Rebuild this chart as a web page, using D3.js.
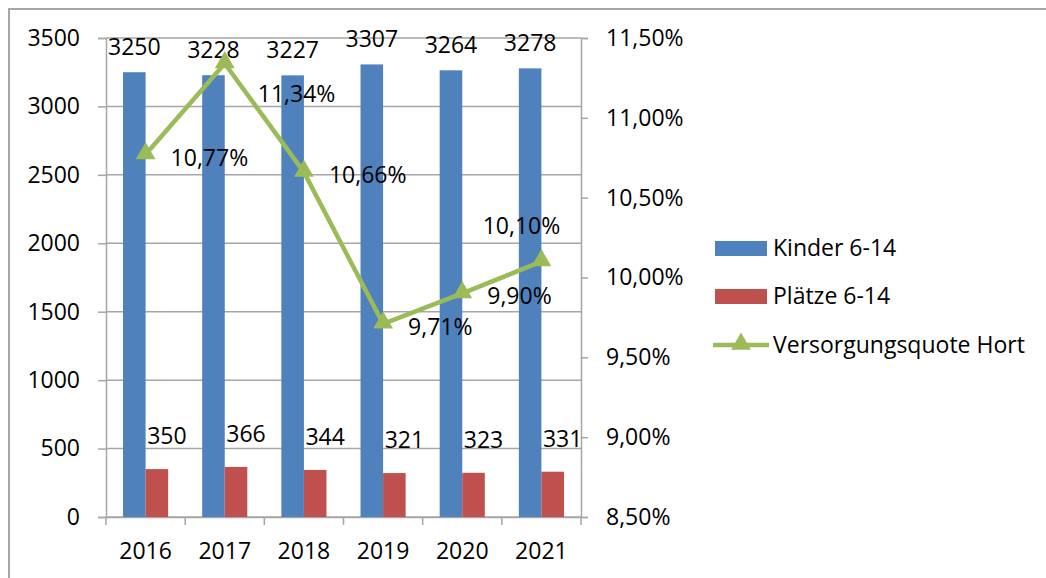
<!DOCTYPE html>
<html lang="de">
	<head>
		<meta charset="utf-8">
		<title>Kinder, Plätze und Versorgungsquote Hort</title>
		<script src="https://cdnjs.cloudflare.com/ajax/libs/d3/7.8.5/d3.min.js"></script>
		<style>
			body { margin:0; background:#fff; }
			text { font-family:"Open Sans", sans-serif; fill:#000; }
		</style>
	</head>
	<body>
		<script>
			// data
			var years = ["2016", "2017", "2018", "2019", "2020", "2021"];
			var kinder = [3250, 3228, 3227, 3307, 3264, 3278];
			var plaetze = [350, 366, 344, 321, 323, 331];
			var quote = [10.77, 11.34, 10.66, 9.71, 9.90, 10.10];
			var leftTicks = [0, 500, 1000, 1500, 2000, 2500, 3000, 3500];
			var rightTicks = [8.5, 9.0, 9.5, 10.0, 10.5, 11.0, 11.5];
			var seriesNames = ["Kinder 6-14", "Plätze 6-14", "Versorgungsquote Hort"];

			var w = 1046, h = 578;
			// plot area ("top" is taken by window.top, so use own names)
			var pLeft = 106, pRight = 581, pTop = 38, pBottom = 517;
			var grey = "#a6a6a6";
			var colBlue = "#4f81bd", colRed = "#c0504d", colGreen = "#9bbb59";
			var fs = "23px";

			var svg = d3.select("body").append("svg")
				.attr("width", w).attr("height", h);

			// outer frame (top + left edge visible)
			svg.append("path")
				.attr("d", "M9,580 V9 H1050")
				.attr("fill", "none").attr("stroke", grey).attr("stroke-width", 2);

			var x = d3.scaleBand().domain(years).range([pLeft, pRight]).paddingInner(0).paddingOuter(0);
			var y = d3.scaleLinear().domain([0, 3500]).range([pBottom, pTop]);
			var y2 = d3.scaleLinear().domain([8.5, 11.5]).range([pBottom, pTop]);

			var bw = x.bandwidth() * 0.285;

			// gridlines
			svg.append("g").selectAll("line").data(leftTicks).enter().append("line")
				.attr("x1", pLeft).attr("x2", pRight)
				.attr("y1", function(d) { return y(d); })
				.attr("y2", function(d) { return y(d); })
				.attr("stroke", grey).attr("stroke-width", 1.5);

			// left axis
			var ax = svg.append("g").attr("transform", "translate(" + pLeft + ",0)")
				.call(d3.axisLeft(y).tickValues(leftTicks).tickSize(8).tickPadding(18).tickFormat(d3.format("d")));
			ax.select(".domain").attr("stroke", grey).attr("stroke-width", 1.5);
			ax.selectAll(".tick line").attr("stroke", grey).attr("stroke-width", 1.5);
			ax.selectAll("text").style("font-size", fs).attr("font-family", null);

			// right axis
			var ax2 = svg.append("g").attr("transform", "translate(" + pRight + ",0)")
				.call(d3.axisRight(y2).tickValues(rightTicks).tickSize(7).tickPadding(18)
					.tickFormat(function(d) { return d.toFixed(2).replace(".", ",") + "%"; }));
			ax2.select(".domain").attr("stroke", grey).attr("stroke-width", 1.5);
			ax2.selectAll(".tick line").attr("stroke", grey).attr("stroke-width", 1.5);
			ax2.selectAll("text").style("font-size", fs).attr("font-family", null);

			// bottom axis (ticks between categories)
			var ax3 = svg.append("g").attr("transform", "translate(0," + pBottom + ")")
				.call(d3.axisBottom(x).tickSize(0).tickPadding(26));
			ax3.select(".domain").attr("stroke", grey).attr("stroke-width", 1.5);
			ax3.selectAll("text").style("font-size", fs).attr("font-family", null);
			var bounds = years.map(function(d) { return x(d); }).concat([pRight]);
			ax3.selectAll(".sep").data(bounds).enter().append("line")
				.attr("x1", function(d) { return d; }).attr("x2", function(d) { return d; })
				.attr("y1", 0).attr("y2", 8)
				.attr("stroke", grey).attr("stroke-width", 1.5);

			function cx(i) { return x(years[i]) + x.bandwidth() / 2; }

			// bars
			svg.append("g").selectAll("rect").data(kinder).enter().append("rect")
				.attr("x", function(d, i) { return cx(i) - bw; })
				.attr("y", function(d) { return y(d); })
				.attr("width", bw)
				.attr("height", function(d) { return pBottom - y(d); })
				.attr("fill", colBlue);
			svg.append("g").selectAll("rect").data(plaetze).enter().append("rect")
				.attr("x", function(d, i) { return cx(i); })
				.attr("y", function(d) { return y(d); })
				.attr("width", bw)
				.attr("height", function(d) { return pBottom - y(d); })
				.attr("fill", colRed);

			// bar labels
			svg.append("g").selectAll("text").data(kinder).enter().append("text")
				.attr("x", function(d, i) { return cx(i) - bw / 2; })
				.attr("y", function(d) { return y(d) - 17; })
				.attr("text-anchor", "middle")
				.style("font-size", fs)
				.text(function(d) { return d; });
			svg.append("g").selectAll("text").data(plaetze).enter().append("text")
				.attr("x", function(d, i) { return cx(i) + bw / 2 + 10; })
				.attr("y", function(d) { return y(d) - 25; })
				.attr("text-anchor", "middle")
				.style("font-size", fs)
				.text(function(d) { return d; });

			// line
			var line = d3.line()
				.x(function(d, i) { return cx(i); })
				.y(function(d) { return y2(d); });
			svg.append("path").datum(quote)
				.attr("d", line)
				.attr("fill", "none").attr("stroke", colGreen).attr("stroke-width", 4.5)
				.attr("stroke-linejoin", "round");

			var tri = d3.symbol().type(d3.symbolTriangle).size(170);
			svg.append("g").selectAll("path").data(quote).enter().append("path")
				.attr("d", tri)
				.attr("transform", function(d, i) { return "translate(" + cx(i) + "," + (y2(d) - 1) + ")"; })
				.attr("fill", colGreen);

			// line labels, right of the point; 2017 a bit lower, 2021 above
			svg.append("g").selectAll("text").data(quote).enter().append("text")
				.attr("x", function(d, i) {
					if (i == 5) return cx(i) - 20;
					return cx(i) + (i == 1 ? 33 : 25);
				})
				.attr("y", function(d, i) {
					if (i == 5) return y2(d) - 28;
					return y2(d) + (i == 1 ? 38 : 11);
				})
				.attr("text-anchor", function(d, i) { return i == 5 ? "middle" : "start"; })
				.style("font-size", fs)
				.text(function(d) { return d.toFixed(2).replace(".", ",") + "%"; });

			// legend
			var lg = svg.append("g").attr("transform", "translate(715,0)");
			var ly = [248, 296, 345];
			lg.append("rect").attr("x", 0).attr("y", ly[0] - 7).attr("width", 52).attr("height", 15).attr("fill", colBlue);
			lg.append("rect").attr("x", 0).attr("y", ly[1] - 7).attr("width", 52).attr("height", 15).attr("fill", colRed);
			lg.append("line").attr("x1", -2).attr("x2", 54).attr("y1", ly[2]).attr("y2", ly[2])
				.attr("stroke", colGreen).attr("stroke-width", 4.5);
			lg.append("path").attr("d", tri)
				.attr("transform", "translate(26," + (ly[2] - 1) + ")").attr("fill", colGreen);
			lg.selectAll("text.lt").data(seriesNames).enter().append("text")
				.attr("x", 58)
				.attr("y", function(d, i) { return ly[i]; })
				.attr("dy", "0.35em")
				.style("font-size", fs)
				.text(function(d) { return d; });
		</script>
	</body>
</html>
